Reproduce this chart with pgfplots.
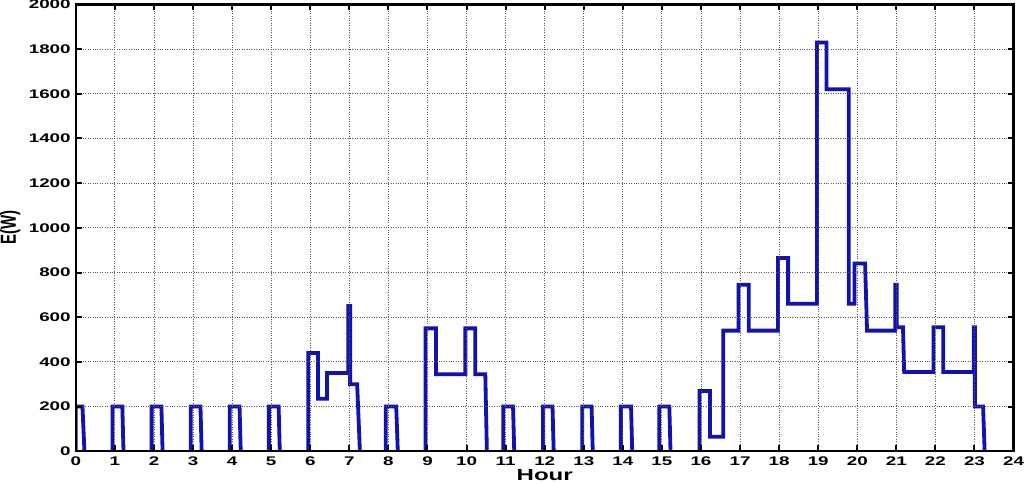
\documentclass[border=0pt]{standalone}
\usepackage{pgfplots}
\pgfplotsset{compat=1.18}
\usepackage{graphicx}
\usepackage{fontspec}
\setmainfont{Liberation Sans}
\definecolor{lineblue}{RGB}{18,18,172}
\begin{document}
\begin{tikzpicture}
\begin{axis}[
  width=936pt, height=446pt, scale only axis,
  xmin=0, xmax=24, ymin=0, ymax=2000,
  xtick={0,1,...,24}, ytick={0,200,...,2000},
  /pgf/number format/assume math mode=true,
  grid=major,
  major grid style={dotted, black!65, line width=0.9pt},
  axis line style={black, line width=2.4pt},
  tick style={black, line width=2pt},
  major tick length=6pt,
  tick align=inside,
  axis on top,
  unbounded coords=jump,
  xticklabel={\scalebox{1.5}[1]{\bfseries\fontsize{12.5}{13}\selectfont\pgfmathprintnumber{\tick}}},
  yticklabel={\scalebox{1.5}[1]{\bfseries\fontsize{12.5}{13}\selectfont\pgfmathprintnumber[1000 sep={}]{\tick}}},
  xticklabel style={inner sep=0pt, yshift=-5pt},
  yticklabel style={inner sep=0pt, xshift=-5pt},
  xlabel={\scalebox{1.5}[1]{\bfseries\fontsize{16}{17}\selectfont Hour}},
  ylabel={\scalebox{1}[1.45]{\bfseries\fontsize{15}{16}\selectfont E(W)}},
  xlabel style={at={(axis description cs:0.5,-0.040)}, anchor=north, inner sep=0pt},
  ylabel style={at={(axis description cs:-0.059,0.5)}, anchor=south, inner sep=0pt, rotate=0},
]
\addplot[lineblue, line width=3.8pt, line join=miter] coordinates {
 (0,0) (0,200) (0.17,200) (0.22,0) (0.5,nan)
 (0.94,0) (0.94,200) (1.19,200) (1.22,0) (1.5,nan)
 (1.94,0) (1.94,200) (2.19,200) (2.22,0) (2.5,nan)
 (2.94,0) (2.94,200) (3.19,200) (3.22,0) (3.5,nan)
 (3.94,0) (3.94,200) (4.19,200) (4.22,0) (4.5,nan)
 (4.94,0) (4.94,200) (5.19,200) (5.22,0) (5.5,nan)
 (5.95,0) (5.95,440) (6.2,440) (6.2,235) (6.43,235) (6.43,350) (6.97,350) (6.97,650) (7.02,650) (7.02,300) (7.2,300) (7.27,0) (7.5,nan)
 (7.93,0) (7.93,200) (8.2,200) (8.24,0) (8.5,nan)
 (8.95,0) (8.95,550) (9.22,550) (9.22,345) (9.97,345) (9.97,550) (10.22,550) (10.22,345) (10.48,345) (10.52,0) (10.7,nan)
 (10.94,0) (10.94,200) (11.19,200) (11.22,0) (11.5,nan)
 (11.96,0) (11.96,200) (12.2,200) (12.23,0) (12.5,nan)
 (12.96,0) (12.96,200) (13.2,200) (13.23,0) (13.5,nan)
 (13.95,0) (13.95,200) (14.21,200) (14.24,0) (14.5,nan)
 (14.93,0) (14.93,200) (15.19,200) (15.22,0) (15.5,nan)
 (15.96,0) (15.96,270) (16.23,270) (16.23,65) (16.57,65) (16.57,540) (16.96,540) (16.96,745) (17.22,745) (17.22,540) (17.97,540) (17.97,865) (18.23,865) (18.23,660) (18.97,660) (18.97,1830) (19.21,1830) (19.21,1620) (19.78,1620) (19.78,660) (19.93,660) (19.93,840) (20.2,840) (20.25,540) (20.97,540) (20.97,745) (21.01,745) (21.01,555) (21.17,555) (21.2,355) (21.95,355) (21.95,555) (22.2,555) (22.2,355) (22.98,355) (22.98,555) (23.01,555) (23.01,200) (23.22,200) (23.26,0)
};
\end{axis}
\path (current bounding box.south) ++(0,-3pt) coordinate (bbpad);
\useasboundingbox (current bounding box.south west) rectangle (current bounding box.north east);
\end{tikzpicture}
\end{document}
